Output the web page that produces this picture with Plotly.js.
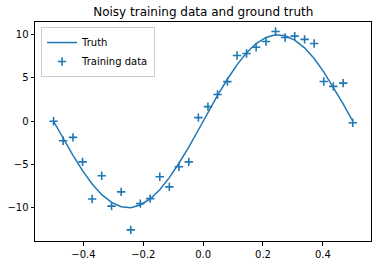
<!DOCTYPE html>
<html><head><meta charset="utf-8">
<script src="https://cdn.plot.ly/plotly-3.0.1.min.js"></script>
<style>html,body{margin:0;padding:0;background:#fff}#chart{width:380px;height:264px}</style>
</head><body><div id="chart"></div>
<script>
const xs = [-0.5, -0.468, -0.435, -0.403, -0.371, -0.339, -0.306, -0.274, -0.242, -0.210, -0.177, -0.145, -0.113, -0.081, -0.048, -0.016,
            0.016, 0.048, 0.081, 0.113, 0.145, 0.177, 0.210, 0.242, 0.274, 0.306, 0.339, 0.371, 0.403, 0.435, 0.468, 0.5];
const truthY = [0, -2.013, -3.944, -5.713, -7.248, -8.486, -9.378, -9.885, -9.987, -9.681, -8.978, -7.908, -6.514, -4.853, -2.993, -1.012,
                1.012, 2.993, 4.853, 6.514, 7.908, 8.978, 9.681, 9.987, 9.885, 9.378, 8.486, 7.248, 5.713, 3.944, 2.013, 0];
const trainY = [0.0, -2.25, -1.86, -4.69, -8.98, -6.30, -9.81, -8.16, -12.55, -9.52, -8.94, -6.42, -7.58, -5.26, -4.69, 0.42,
                1.69, 3.09, 4.58, 7.59, 7.83, 8.56, 9.22, 10.38, 9.68, 9.84, 9.46, 8.99, 4.59, 4.03, 4.40, -0.17];
const xTicks = [-0.4, -0.2, 0.0, 0.2, 0.4];
const xTickText = ["\u22120.4", "\u22120.2", "0.0", "0.2", "0.4"];
const yTicks = [-10, -5, 0, 5, 10];
const yTickText = ["\u221210", "\u22125", "0", "5", "10"];

const blue = '#1f77b4';
const font = 'DejaVu Sans, sans-serif';
const traces = [
  {x: xs, y: truthY, mode: 'lines', name: 'Truth', line: {color: blue, width: 1.5}},
  {x: xs, y: trainY, mode: 'markers', name: 'Training data',
   marker: {symbol: 'cross-thin', size: 6, color: blue, line: {color: blue, width: 1.6}}}
];
const axisCommon = {showline: true, mirror: true, linecolor: '#000', linewidth: 1, ticks: 'outside',
  ticklen: 3.5, tickwidth: 1, tickcolor: '#000', showgrid: false, zeroline: false,
  tickfont: {family: font, size: 10, color: '#000'}};
const layout = {
  width: 380, height: 264,
  margin: {l: 35, r: 9, t: 22, b: 23, pad: 0},
  paper_bgcolor: '#fff', plot_bgcolor: '#fff',
  title: {text: 'Noisy training data and ground truth', font: {family: font, size: 12, color: '#000'},
          x: 0.535, xanchor: 'center', y: 0.955, yanchor: 'middle', xref: 'container'},
  xaxis: Object.assign({}, axisCommon, {range: [-0.562, 0.561], tickvals: xTicks, ticktext: xTickText}),
  yaxis: Object.assign({}, axisCommon, {range: [-13.84, 11.47], tickvals: yTicks, ticktext: yTickText}),
  showlegend: true,
  legend: {x: 0.018, y: 0.977, xanchor: 'left', yanchor: 'top', bgcolor: '#fff', bordercolor: '#ccc',
           borderwidth: 1, font: {family: font, size: 10, color: '#000'}, itemwidth: 30, tracegroupgap: 0}
};
Plotly.newPlot('chart', traces, layout, {displayModeBar: false, staticPlot: true});
</script></body></html>
